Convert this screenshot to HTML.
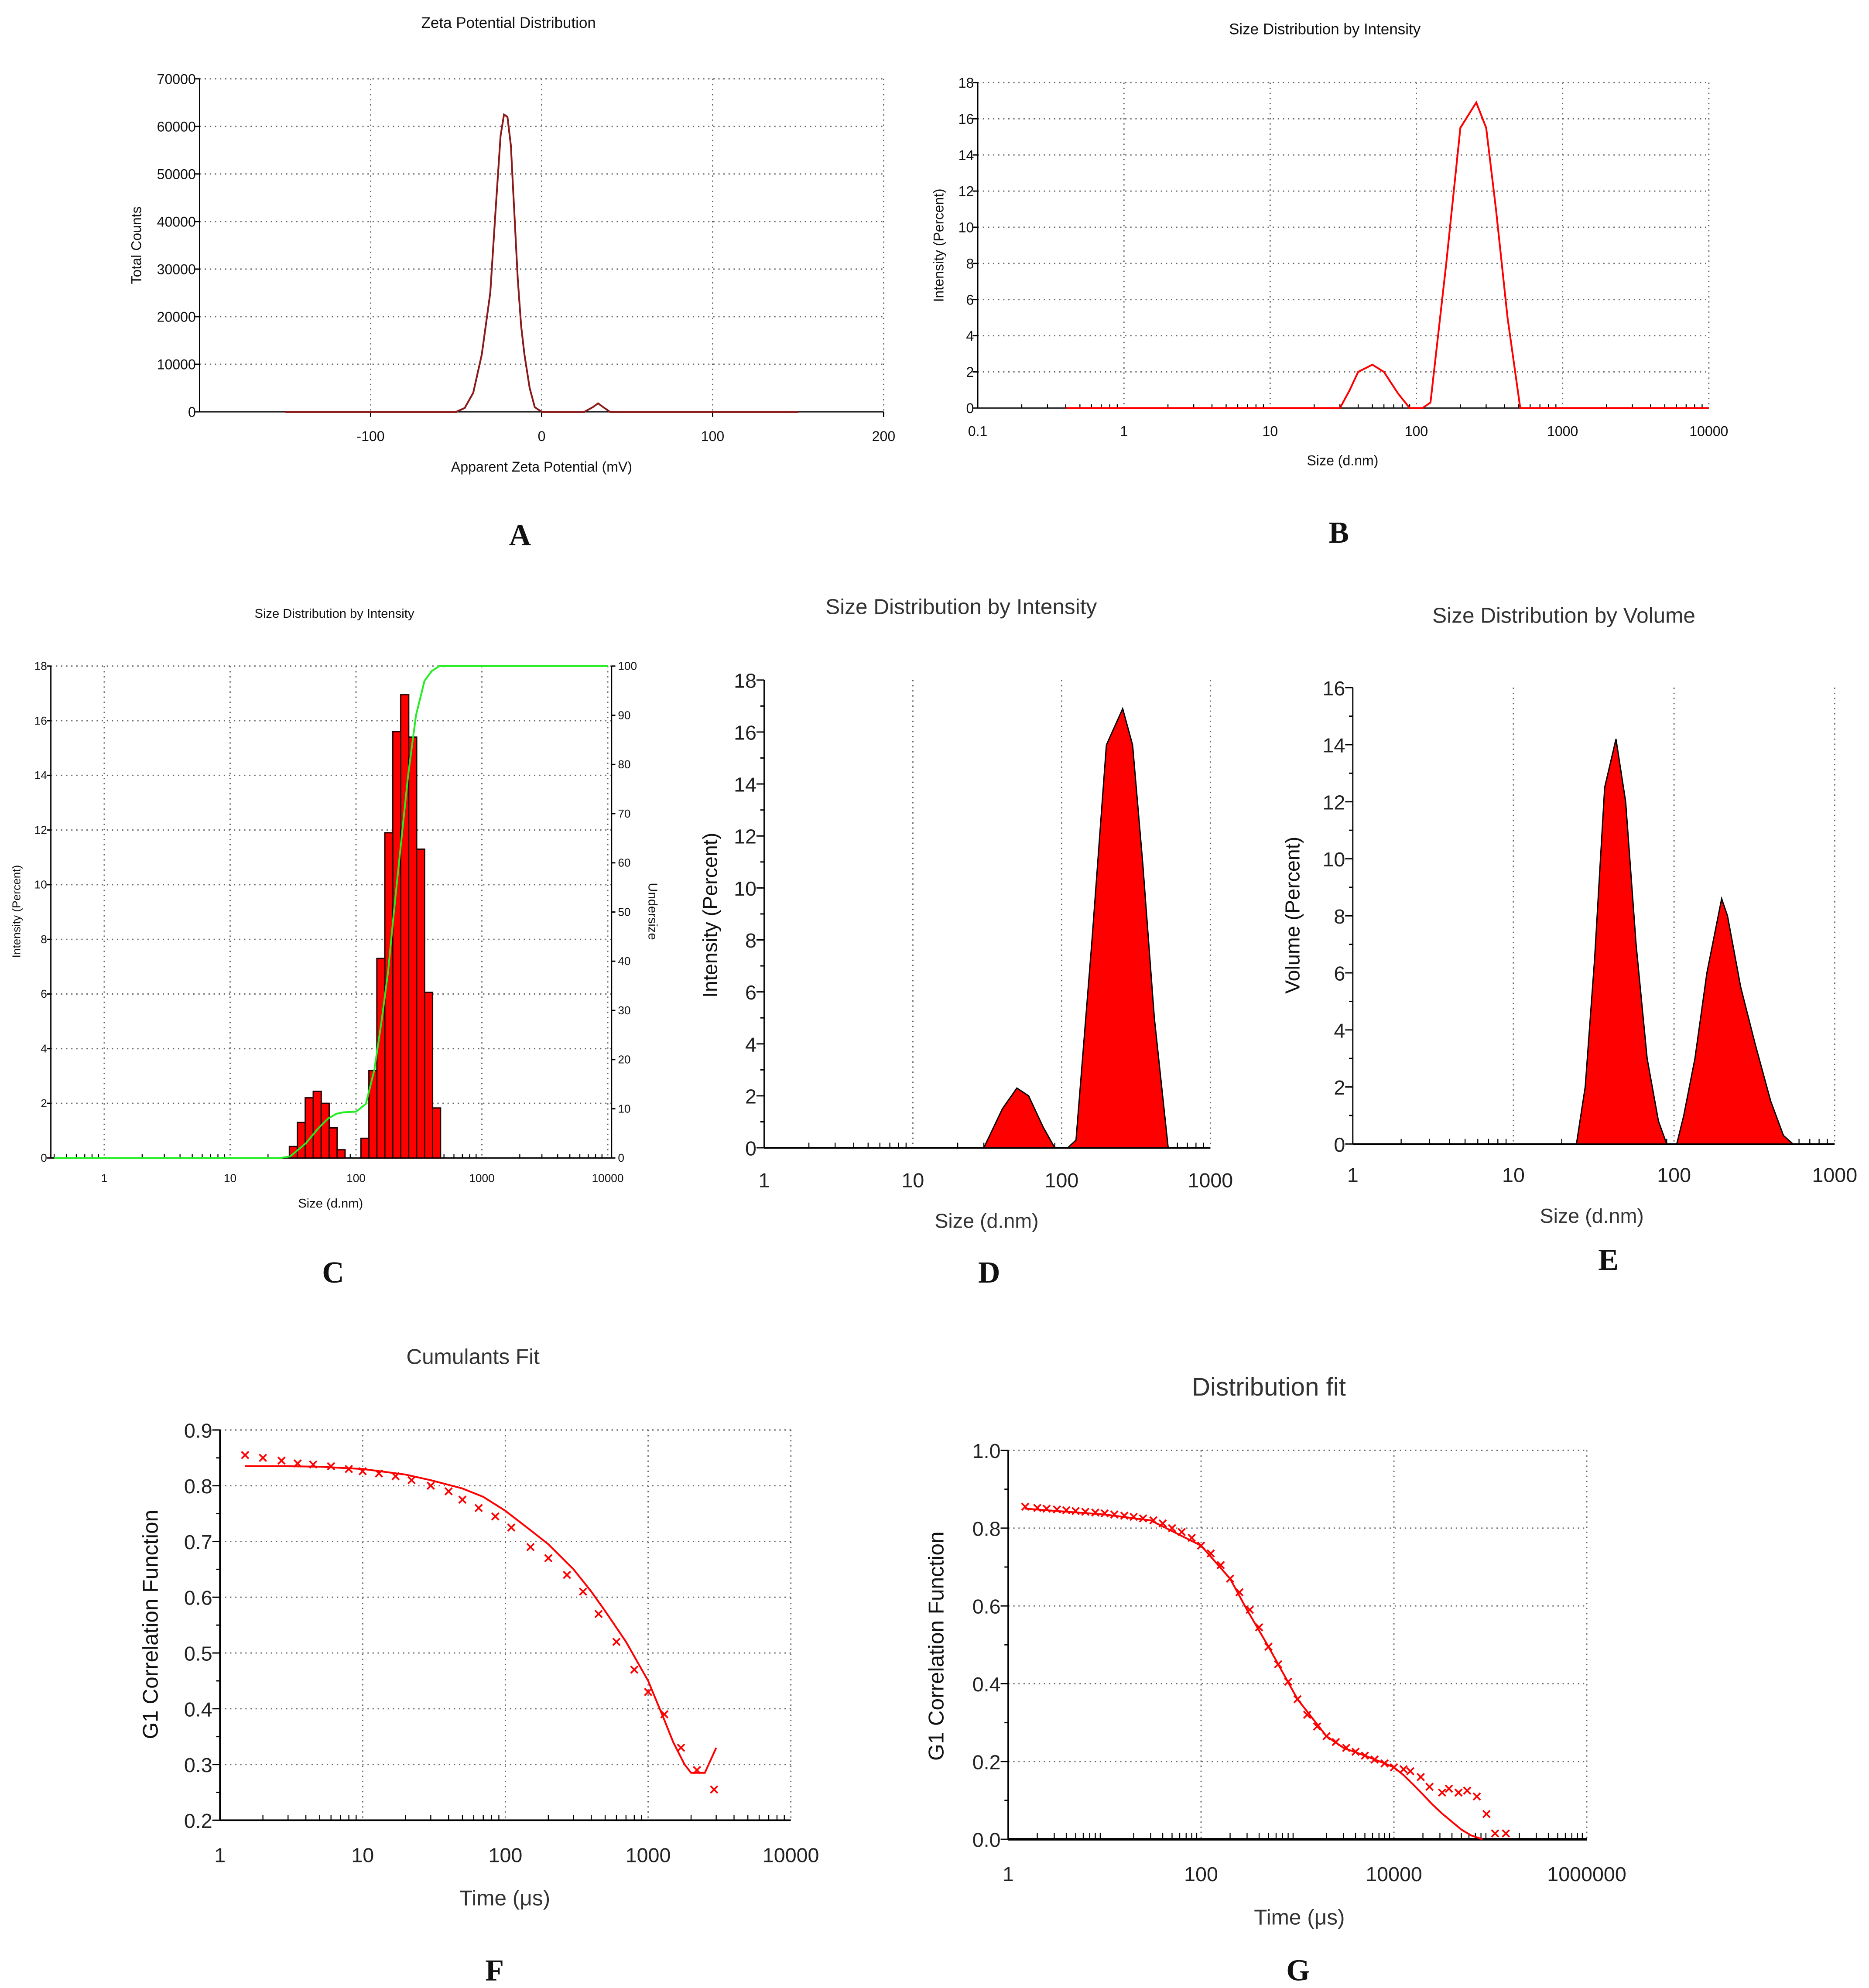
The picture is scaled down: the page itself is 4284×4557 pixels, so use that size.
<!DOCTYPE html>
<html><head><meta charset="utf-8">
<style>
html,body{margin:0;padding:0;background:#fff;}
svg{display:block;}
</style></head>
<body>
<svg id="fig" xmlns="http://www.w3.org/2000/svg" width="4284" height="4557" viewBox="0 0 1470 1564" preserveAspectRatio="none"></svg>
<script>
// ---- Panel A data (zeta potential) ----
const zetaX = [-150,-50,-45,-40,-35,-30,-27,-24,-22,-20,-18,-16,-14,-12,-10,-7,-4,0,10,25,30,33,36,40,60,150];
const zetaY = [0,0,800,4000,12000,25000,42000,58000,62500,62000,56000,42000,28000,18000,12000,5000,1000,0,0,0,1000,1800,1000,0,0,0];
const zetaXTicks = [-100,0,100,200];
const zetaYTicks = [0,10000,20000,30000,40000,50000,60000,70000];
// ---- Panel B data ----
const bSize = [0.4,30,35,40,50,60,75,90,110,125,160,200,257,300,350,420,513,10000];
const bInt = [0,0,1,2,2.4,2,0.8,0,0,0.3,8,15.5,16.9,15.5,11,5,0,0];
// ---- Panel C data ----
const cSize = [31.8,36.8,42.5,49.2,56.9,65.8,76.1,88.0,101.8,117.8,136.2,157.6,182.3,210.9,243.9,282.1,326.3,377.5,436.6];
const cInt = [0.42,1.3,2.2,2.44,2.0,1.1,0.3,0,0,0.72,3.2,7.3,11.9,15.6,16.95,15.4,11.3,6.06,1.83];
const cumSize = [0.4,25,30,40,50,60,70,80,100,120,140,160,180,200,230,260,300,350,400,460,10000];
const cumPct = [0,0,0.3,3,6,8,9,9.3,9.4,11,18,28,38,50,65,78,90,97,99,100,100];
// ---- Panel D data ----
const dSize = [30,40,50,60,75,90,110,125,160,200,257,300,350,420,520];
const dInt = [0,1.5,2.3,2.0,0.8,0,0,0.3,8,15.5,16.9,15.5,11,5,0];
// ---- Panel E data ----
const eSize = [24.7,28,32,37,43.5,50,58,68,80,90,100,104,115,135,160,198,215,260,320,400,480,550];
const eVol = [0,2,6.5,12.5,14.2,12,7,3,0.8,0,0,0,1,3,6,8.6,8,5.5,3.5,1.5,0.3,0];
// ---- Panel F data ----
const fT = [1.5,2,2.7,3.5,4.5,6,8,10,13,17,22,30,40,50,65,85,110,150,200,270,350,450,600,800,1000,1300,1700,2200,2900];
const fG = [0.855,0.85,0.845,0.84,0.838,0.835,0.83,0.826,0.822,0.817,0.81,0.80,0.79,0.775,0.76,0.745,0.725,0.69,0.67,0.64,0.61,0.57,0.52,0.47,0.43,0.39,0.33,0.29,0.255];
const fFitT = [1.5,3,5,10,20,30,50,70,100,150,200,300,400,500,700,1000,1300,1500,1800,2000,2500,3000];
const fFitG = [0.835,0.835,0.834,0.83,0.82,0.81,0.795,0.78,0.755,0.72,0.695,0.65,0.61,0.575,0.52,0.45,0.38,0.34,0.30,0.285,0.285,0.33];
// ---- Panel G data ----
const gT = [1.5,2,2.5,3.2,4,5,6.3,8,10,12.6,16,20,25,32,40,50,63,80,100,126,160,200,250,320,400,500,630,800,1000,1260,1600,2000,2500,3200,4000,5000,6300,8000,10000,12600,14800,19000,23400,31600,37200,46800,57500,72400,91200,112000,145000];
const gG = [0.855,0.852,0.85,0.848,0.846,0.844,0.842,0.84,0.838,0.835,0.832,0.829,0.825,0.82,0.812,0.80,0.79,0.775,0.755,0.735,0.705,0.67,0.635,0.59,0.545,0.495,0.45,0.405,0.36,0.32,0.29,0.265,0.25,0.235,0.225,0.215,0.205,0.195,0.185,0.18,0.175,0.16,0.135,0.12,0.13,0.12,0.125,0.11,0.065,0.015,0.015];
const gFitT = [1.5,10,30,100,200,300,500,1000,2000,3000,5000,8000,10000,12600,16000,20000,25000,32000,40000,50000,63000,83000];
const gFitG = [0.85,0.835,0.82,0.755,0.67,0.59,0.495,0.36,0.265,0.235,0.215,0.195,0.185,0.165,0.14,0.115,0.09,0.065,0.045,0.025,0.01,0];

const NS = "http://www.w3.org/2000/svg";
const svg = document.getElementById('fig');
const SANS = '"Liberation Sans",Arial,sans-serif';
function mk(tag, attrs, parent, name) {
  const el = document.createElementNS(NS, tag);
  for (const k in attrs) el.setAttribute(k, attrs[k]);
  
  
  (parent || svg).appendChild(el);
  return el;
}
function txt(x, y, s, size, anchor, parent, name, extra) {
  const a = {x: x, y: y, 'font-size': size, 'text-anchor': anchor || 'middle', fill: '#111', 'font-family': SANS};
  if (extra) for (const k in extra) a[k] = extra[k];
  const t = mk('text', a, parent, name);
  t.textContent = s;
  return t;
}
function vtxt(x, y, s, size, parent, name) {
  return txt(0, 0, s, size, 'middle', parent, name, {transform: 'translate(' + x + ',' + y + ') rotate(-90)'});
}
function lin(x0, x1, p0, p1) { return v => p0 + (v - x0) / (x1 - x0) * (p1 - p0); }
function logs(x0, x1, p0, p1) { const f = lin(Math.log10(x0), Math.log10(x1), p0, p1); return v => f(Math.log10(v)); }
function ln(x1, y1, x2, y2, st, g, name, dash, w) {
  const a = {x1: x1, y1: y1, x2: x2, y2: y2, stroke: st, 'stroke-width': w || 1};
  if (dash) a['stroke-dasharray'] = dash;
  return mk('line', a, g, name);
}
const DOT = '1,3';
const GR = '#666';
function minorLogTicks(g, sx, dmin, dmax, y, len, lo, hi) {
  for (let d = dmin; d < dmax; d++) for (let m = 2; m <= 9; m++) {
    const v = m * Math.pow(10, d);
    if (v < lo || v > hi) continue;
    ln(sx(v), y, sx(v), y - len, '#000', g, 'x-minor-tick', null, 0.8);
  }
}
function letter(x, y, s) {
  txt(x, y, s, 24, 'middle', null, 'panel-label-' + s.toLowerCase(), {'font-family': '"Liberation Serif",serif', 'font-weight': 'bold'});
}

// ================= Panel A =================
(function () {
  const g = mk('g', {}, svg, 'panel-a-zeta-chart');
  const L = 157, R = 695, T = 62, B = 324;
  const sx = lin(-200, 200, L, R), sy = lin(0, 70000, B, T);
  txt(400, 22, 'Zeta Potential Distribution', 12, 'middle', g, 'chart-title');
  zetaYTicks.forEach(v => {
    if (v > 0) ln(L, sy(v), R, sy(v), GR, g, 'y-gridline', DOT);
    ln(L - 4, sy(v), L, sy(v), '#000', g, 'y-tick');
    txt(L - 3, sy(v) + 4, String(v), 11, 'end', g, 'y-tick-label');
  });
  zetaXTicks.forEach(v => {
    ln(sx(v), T, sx(v), B, GR, g, 'x-gridline', DOT);
    ln(sx(v), B, sx(v), B + 4, '#000', g, 'x-tick');
    txt(sx(v), B + 23, String(v), 11, 'middle', g, 'x-tick-label');
  });
  ln(L, T, R, T, GR, g, 'top-border', DOT);
  ln(L, T, L, B, '#000', g, 'y-axis');
  ln(L, B, R, B, '#000', g, 'x-axis');
  vtxt(111, 193, 'Total Counts', 11, g, 'y-axis-title');
  txt(426, 371, 'Apparent Zeta Potential (mV)', 11, 'middle', g, 'x-axis-title');
  const pts = zetaX.map((x, i) => sx(x).toFixed(1) + ',' + sy(zetaY[i]).toFixed(1)).join(' ');
  mk('polyline', {points: pts, fill: 'none', stroke: '#8b1a1a', 'stroke-width': 1.4}, g, 'zeta-curve');
})();
letter(409, 429, 'A');

// ================= Panel B =================
(function () {
  const g = mk('g', {}, svg, 'panel-b-intensity-chart');
  const L = 769, R = 1344, T = 65, B = 321;
  const sx = logs(0.1, 10000, L, R), sy = lin(0, 18, B, T);
  txt(1042, 27, 'Size Distribution by Intensity', 12, 'middle', g, 'chart-title');
  for (let v = 0; v <= 18; v += 2) {
    if (v > 0) ln(L, sy(v), R, sy(v), GR, g, 'y-gridline', DOT);
    ln(L - 4, sy(v), L, sy(v), '#000', g, 'y-tick');
    txt(L - 3, sy(v) + 4, String(v), 11, 'end', g, 'y-tick-label');
  }
  [0.1, 1, 10, 100, 1000, 10000].forEach(v => {
    ln(sx(v), T, sx(v), B, GR, g, 'x-gridline', DOT);
    txt(sx(v), B + 22, String(v), 11, 'middle', g, 'x-tick-label');
  });
  minorLogTicks(g, sx, -1, 4, B, 3, 0.1, 10000);
  ln(L, T, L, B, '#000', g, 'y-axis');
  ln(L, B, R, B, '#000', g, 'x-axis');
  vtxt(742, 193, 'Intensity (Percent)', 11, g, 'y-axis-title');
  txt(1056, 366, 'Size (d.nm)', 11, 'middle', g, 'x-axis-title');
  const pts = bSize.map((x, i) => sx(x).toFixed(1) + ',' + sy(bInt[i]).toFixed(1)).join(' ');
  mk('polyline', {points: pts, fill: 'none', stroke: '#ff0000', 'stroke-width': 1.4}, g, 'intensity-curve');
})();
letter(1053, 427, 'B');

// ================= Panel C =================
(function () {
  const g = mk('g', {}, svg, 'panel-c-histogram-chart');
  const L = 40, R = 481, T = 524, B = 911;
  const sx = logs(1, 10, 82, 181), sy = lin(0, 18, B, T), sy2 = lin(0, 100, B, T);
  txt(263, 486, 'Size Distribution by Intensity', 10, 'middle', g, 'chart-title');
  for (let v = 0; v <= 18; v += 2) {
    if (v > 0) ln(L, sy(v), R, sy(v), GR, g, 'y-gridline', DOT);
    ln(L - 3, sy(v), L, sy(v), '#000', g, 'y-tick');
    txt(L - 3, sy(v) + 3, String(v), 9, 'end', g, 'y-tick-label');
  }
  for (let v = 0; v <= 100; v += 10) {
    ln(R, sy2(v), R + 3, sy2(v), '#000', g, 'right-y-tick');
    txt(R + 5, sy2(v) + 3, String(v), 9, 'start', g, 'right-y-tick-label');
  }
  [1, 10, 100, 1000, 10000].forEach(v => {
    ln(sx(v), T, sx(v), B, GR, g, 'x-gridline', DOT);
    txt(sx(v), B + 19, String(v), 9, 'middle', g, 'x-tick-label');
  });
  minorLogTicks(g, sx, -1, 4, B, 3, 0.38, 10700);
  ln(L, T, R, T, GR, g, 'top-border', DOT);
  ln(L, T, L, B, '#000', g, 'y-axis');
  ln(R, T, R, B, '#000', g, 'right-y-axis');
  ln(L, B, R, B, '#000', g, 'x-axis');
  vtxt(16, 717, 'Intensity (Percent)', 9, g, 'y-axis-title');
  txt(0, 0, 'Undersize', 10, 'middle', g, 'right-y-axis-title', {transform: 'translate(510,717) rotate(90)'});
  txt(260, 950, 'Size (d.nm)', 10, 'middle', g, 'x-axis-title');
  const half = 0.0635 / 2;
  cSize.forEach((s, i) => {
    if (cInt[i] <= 0) return;
    const x0 = sx(Math.pow(10, Math.log10(s) - half)), x1 = sx(Math.pow(10, Math.log10(s) + half));
    mk('rect', {x: x0, y: sy(cInt[i]), width: x1 - x0, height: sy(0) - sy(cInt[i]), fill: '#ff0000', stroke: '#200', 'stroke-width': 1}, g, 'histogram-bar');
  });
  const pts = cumSize.map((x, i) => sx(x).toFixed(1) + ',' + sy2(cumPct[i]).toFixed(1)).join(' ');
  mk('polyline', {points: pts, fill: 'none', stroke: '#22ee22', 'stroke-width': 1.4}, g, 'cumulative-undersize-curve');
})();
letter(262, 1009, 'C');

// ================= Panel D =================
(function () {
  const g = mk('g', {}, svg, 'panel-d-intensity-chart');
  const L = 601, R = 952, T = 535, B = 903;
  const sx = logs(1, 1000, L, R), sy = lin(0, 18, B, T);
  txt(756, 483, 'Size Distribution by Intensity', 17, 'middle', g, 'chart-title', {fill: '#333'});
  for (let v = 0; v <= 18; v += 1) {
    ln(L - (v % 2 ? 3 : 6), sy(v), L, sy(v), '#000', g, 'y-tick');
    if (v % 2 === 0) txt(L - 6, sy(v) + 6, String(v), 16, 'end', g, 'y-tick-label', {fill: '#222'});
  }
  [1, 10, 100, 1000].forEach(v => {
    if (v > 1) ln(sx(v), T, sx(v), B, GR, g, 'x-gridline', DOT);
    txt(sx(v), 934, String(v), 16, 'middle', g, 'x-tick-label', {fill: '#222'});
  });
  minorLogTicks(g, sx, 0, 3, B, 4, 1, 1000);
  ln(L, T, L, B, '#000', g, 'y-axis');
  ln(L, B, R, B, '#000', g, 'x-axis', null, 1.3);
  vtxt(564, 720, 'Intensity (Percent)', 16, g, 'y-axis-title');
  txt(776, 966, 'Size (d.nm)', 16, 'middle', g, 'x-axis-title', {fill: '#333'});
  const pts = dSize.map((x, i) => sx(x).toFixed(1) + ',' + sy(dInt[i]).toFixed(1)).join(' ');
  mk('polygon', {points: pts, fill: '#ff0000', stroke: '#000', 'stroke-width': 1}, g, 'intensity-area');
})();
letter(778, 1009, 'D');

// ================= Panel E =================
(function () {
  const g = mk('g', {}, svg, 'panel-e-volume-chart');
  const L = 1064, R = 1443, T = 541, B = 900;
  const sx = logs(1, 1000, L, R), sy = lin(0, 16, B, T);
  txt(1230, 490, 'Size Distribution by Volume', 17, 'middle', g, 'chart-title', {fill: '#333'});
  for (let v = 0; v <= 16; v += 1) {
    ln(L - (v % 2 ? 3 : 6), sy(v), L, sy(v), '#000', g, 'y-tick');
    if (v % 2 === 0) txt(L - 6, sy(v) + 6, String(v), 16, 'end', g, 'y-tick-label', {fill: '#222'});
  }
  [1, 10, 100, 1000].forEach(v => {
    if (v > 1) ln(sx(v), T, sx(v), B, GR, g, 'x-gridline', DOT);
    txt(sx(v), 930, String(v), 16, 'middle', g, 'x-tick-label', {fill: '#222'});
  });
  minorLogTicks(g, sx, 0, 3, B, 4, 1, 1000);
  ln(L, T, L, B, '#000', g, 'y-axis');
  ln(L, B, R, B, '#000', g, 'x-axis', null, 1.3);
  vtxt(1022, 720, 'Volume (Percent)', 16, g, 'y-axis-title');
  txt(1252, 962, 'Size (d.nm)', 16, 'middle', g, 'x-axis-title', {fill: '#333'});
  const pts = eSize.map((x, i) => sx(x).toFixed(1) + ',' + sy(eVol[i]).toFixed(1)).join(' ');
  mk('polygon', {points: pts, fill: '#ff0000', stroke: '#000', 'stroke-width': 1}, g, 'volume-area');
})();
letter(1265, 999, 'E');

// ================= Panel F =================
function cross(g, x, y, name) {
  const s = 2.8;
  const p = mk('path', {d: 'M' + (x - s) + ',' + (y - s) + 'L' + (x + s) + ',' + (y + s) + 'M' + (x - s) + ',' + (y + s) + 'L' + (x + s) + ',' + (y - s), stroke: '#ff0000', 'stroke-width': 1.3, fill: 'none'}, g, name);
  return p;
}
(function () {
  const g = mk('g', {}, svg, 'panel-f-cumulants-chart');
  const L = 173, R = 622, T = 1125, B = 1432;
  const sx = logs(1, 10000, L, R), sy = lin(0.2, 0.9, B, T);
  txt(372, 1073, 'Cumulants Fit', 17, 'middle', g, 'chart-title', {fill: '#333'});
  for (let i = 2; i <= 9; i++) {
    const v = i / 10;
    if (i > 2) ln(L, sy(v), R, sy(v), GR, g, 'y-gridline', DOT);
    ln(L - 6, sy(v), L, sy(v), '#000', g, 'y-tick');
    if (i < 9) ln(L - 3, sy(v + 0.05), L, sy(v + 0.05), '#000', g, 'y-minor-tick');
    txt(L - 6, sy(v) + 6, v.toFixed(1), 16, 'end', g, 'y-tick-label', {fill: '#222'});
  }
  [1, 10, 100, 1000, 10000].forEach(v => {
    if (v > 1) ln(sx(v), T, sx(v), B, GR, g, 'x-gridline', DOT);
    txt(sx(v), 1465, String(v), 16, 'middle', g, 'x-tick-label', {fill: '#222'});
  });
  minorLogTicks(g, sx, 0, 4, B, 4, 1, 10000);
  ln(L, T, R, T, GR, g, 'top-border', DOT);
  ln(L, T, L, B, '#000', g, 'y-axis', null, 1.3);
  ln(L, B, R, B, '#000', g, 'x-axis', null, 1.3);
  vtxt(124, 1278, 'G1 Correlation Function', 17, g, 'y-axis-title');
  txt(397, 1499, 'Time (μs)', 17, 'middle', g, 'x-axis-title', {fill: '#333'});
  const pts = fFitT.map((x, i) => sx(x).toFixed(1) + ',' + sy(fFitG[i]).toFixed(1)).join(' ');
  mk('polyline', {points: pts, fill: 'none', stroke: '#ff0000', 'stroke-width': 1.4}, g, 'cumulants-fit-line');
  fT.forEach((t, i) => cross(g, sx(t), sy(fG[i]), 'data-point'));
})();
letter(389, 1558, 'F');

// ================= Panel G =================
(function () {
  const g = mk('g', {}, svg, 'panel-g-distribution-fit-chart');
  const L = 793, R = 1248, T = 1141, B = 1447;
  const sx = logs(1, 1000000, L, R), sy = lin(0, 1, B, T);
  txt(998, 1098, 'Distribution fit', 20, 'middle', g, 'chart-title', {fill: '#333'});
  for (let i = 0; i <= 5; i++) {
    const v = i * 0.2;
    if (i > 0) ln(L, sy(v), R, sy(v), GR, g, 'y-gridline', DOT);
    ln(L - 6, sy(v), L, sy(v), '#000', g, 'y-tick');
    if (i < 5) ln(L - 3, sy(v + 0.1), L, sy(v + 0.1), '#000', g, 'y-minor-tick');
    txt(L - 6, sy(v) + 6, v.toFixed(1), 16, 'end', g, 'y-tick-label', {fill: '#222'});
  }
  [1, 100, 10000, 1000000].forEach(v => {
    if (v > 1) ln(sx(v), T, sx(v), B, GR, g, 'x-gridline', DOT);
    txt(sx(v), 1480, String(v), 16, 'middle', g, 'x-tick-label', {fill: '#222'});
  });
  minorLogTicks(g, sx, 0, 6, B, 5, 1, 1000000);
  ln(L, T, R, T, GR, g, 'top-border', DOT);
  ln(L, T, L, B, '#000', g, 'y-axis', null, 1.3);
  ln(L, B, R, B, '#000', g, 'x-axis', null, 2);
  vtxt(742, 1295, 'G1 Correlation Function', 17, g, 'y-axis-title');
  txt(1022, 1514, 'Time (μs)', 17, 'middle', g, 'x-axis-title', {fill: '#333'});
  const pts = gFitT.map((x, i) => sx(x).toFixed(1) + ',' + sy(gFitG[i]).toFixed(1)).join(' ');
  mk('polyline', {points: pts, fill: 'none', stroke: '#ff0000', 'stroke-width': 1.4}, g, 'distribution-fit-line');
  gT.forEach((t, i) => cross(g, sx(t), sy(gG[i]), 'data-point'));
})();
letter(1021, 1558, 'G');
</script>
</body></html>
